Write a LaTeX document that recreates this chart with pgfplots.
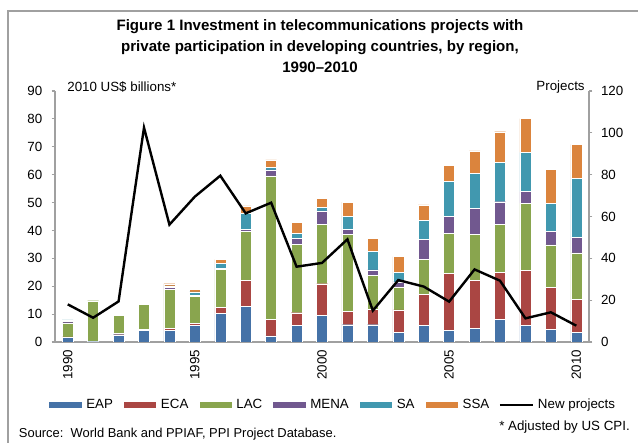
\documentclass[border=0pt]{standalone}
\usepackage{pgfplots}
\pgfplotsset{compat=1.18}
\usepackage{fontspec}
\setmainfont{Liberation Sans}
\definecolor{cEAP}{HTML}{4572A7}
\definecolor{cECA}{HTML}{AA4643}
\definecolor{cLAC}{HTML}{89A54E}
\definecolor{cMENA}{HTML}{71588F}
\definecolor{cSA}{HTML}{4198AF}
\definecolor{cSSA}{HTML}{DB843D}
\definecolor{axisgray}{HTML}{A0A0A0}
\pgfplotsset{
  barlegend/.style={legend image code/.code={\fill[##1] (0pt,-2.6pt) rectangle (25pt,2.6pt);}},
  linelegend/.style={legend image code/.code={\draw[##1] (0pt,0pt) -- (25pt,0pt);}},
}
\begin{document}
\begin{tikzpicture}
\path[use as bounding box] (0pt,0pt) rectangle (478.5pt,331.5pt);
\draw[axisgray, line width=1.2pt] (6pt,-5pt) -- (6pt,323.25pt) -- (485pt,323.25pt);
\node[font=\fontsize{11.3}{15.75}\selectfont\bfseries, align=center] at (240pt,297pt)
 {Figure 1 Investment in telecommunications projects with\\private participation in developing countries, by region,\\1990--2010};
\node[font=\fontsize{10}{12}\selectfont, anchor=west] at (47pt,266.5pt) {2010 US\$ billions*};
\node[font=\fontsize{10}{12}\selectfont, anchor=east] at (442pt,266.5pt) {Projects};
\node[font=\fontsize{9.7}{12}\selectfont, anchor=west, inner sep=0pt] at (14pt,6pt) {Source:\ \ World Bank and PPIAF, PPI Project Database.};
\node[font=\fontsize{10}{12}\selectfont, anchor=east, inner sep=0pt] at (472.5pt,11.25pt) {* Adjusted by US CPI.};
\begin{axis}[
  scale only axis, width=400.5pt, height=188.25pt,
  at={(41.25pt,75pt)}, anchor=south west,
  xmin=-0.5, xmax=20.5, ymin=0, ymax=90,
  ybar stacked, bar width=8.25pt,
  axis y line*=left, axis x line*=bottom,
  axis line style={draw=axisgray, line width=0.8pt, -},
  ytick={0,10,...,90},
  tick align=outside, major tick length=2.5pt,
  y tick style={draw=axisgray, line width=0.8pt},
  y tick label style={xshift=-3.5pt},
  xtick={0,5,10,15,20}, xticklabels={1990,1995,2000,2005,2010},
  x tick style={draw=none},
  x tick label style={rotate=90, anchor=east},
  tick label style={font=\fontsize{10}{12}\selectfont, /pgf/number format/assume math mode=true},
  legend columns=7,
  legend style={draw=none, fill=none, at={(0.519,-0.251)}, anchor=center,
    font=\fontsize{10}{12}\selectfont,
    nodes={inner xsep=0.6pt},
    /tikz/every odd column/.append style={column sep=2.5pt},
    /tikz/every even column/.append style={column sep=7pt}},
  barlegend,
  every axis plot/.append style={draw=white, line width=0.3pt},
]
\addplot[fill=cEAP] coordinates {(0,1.6)(1,0.1)(2,2.6)(3,4.1)(4,4.1)(5,6.0)(6,10.3)(7,12.9)(8,2.2)(9,6.0)(10,9.6)(11,6.2)(12,6.2)(13,3.5)(14,5.9)(15,4.1)(16,4.9)(17,8.1)(18,5.9)(19,4.5)(20,3.5)};
\addplot[fill=cECA] coordinates {(0,0.2)(1,0.2)(2,0.5)(3,0.4)(4,0.8)(5,0.8)(6,2.0)(7,9.3)(8,5.9)(9,4.5)(10,11.3)(11,4.7)(12,5.5)(13,8.0)(14,11.1)(15,20.5)(16,17.3)(17,16.9)(18,19.7)(19,15.0)(20,11.7)};
\addplot[fill=cLAC] coordinates {(0,5.1)(1,14.5)(2,6.5)(3,8.9)(4,14.1)(5,9.5)(6,13.8)(7,17.6)(8,51.5)(9,24.4)(10,21.4)(11,27.6)(12,12.3)(13,8.3)(14,12.6)(15,14.4)(16,16.4)(17,17.3)(18,24.1)(19,15.3)(20,16.8)};
\addplot[fill=cMENA] coordinates {(0,0.5)(1,0.2)(2,0.3)(3,0.5)(4,0.6)(5,0.4)(6,0.3)(7,0.6)(8,2.1)(9,2.2)(10,4.7)(11,1.9)(12,1.9)(13,1.8)(14,7.1)(15,6.1)(16,9.3)(17,8.0)(18,4.2)(19,4.8)(20,5.5)};
\addplot[fill=cSA] coordinates {(0,0.5)(1,0.3)(2,0.1)(3,0.2)(4,0.5)(5,1.3)(6,1.8)(7,5.7)(8,0.9)(9,1.9)(10,1.3)(11,4.7)(12,6.5)(13,3.3)(14,6.9)(15,12.6)(16,12.6)(17,14.0)(18,14.1)(19,10.1)(20,21.2)};
\addplot[fill=cSSA] coordinates {(0,0.1)(1,0.0)(2,0.3)(3,0.4)(4,0.8)(5,1.0)(6,1.4)(7,2.7)(8,2.7)(9,3.8)(10,3.3)(11,5.1)(12,4.8)(13,5.7)(14,5.6)(15,5.6)(16,8.0)(17,11.1)(18,12.1)(19,12.2)(20,12.2)};
\addlegendimage{black, line width=0.8pt, linelegend}
\legend{EAP,ECA,LAC,MENA,SA,SSA,New projects}
\end{axis}
\begin{axis}[
  scale only axis, width=400.5pt, height=188.25pt,
  at={(41.25pt,75pt)}, anchor=south west,
  xmin=-0.5, xmax=20.5, ymin=0, ymax=120,
  axis y line*=right, axis x line=none,
  axis line style={draw=axisgray, line width=0.8pt, -},
  ytick={0,20,...,120},
  tick align=outside, major tick length=2.5pt,
  y tick style={draw=axisgray, line width=0.8pt},
  y tick label style={xshift=3pt},
  tick label style={font=\fontsize{10}{12}\selectfont, /pgf/number format/assume math mode=true},
]
\addplot[black, line width=1.8pt, mark=none] coordinates {(0,18.0)(1,11.6)(2,19.4)(3,102.5)(4,56.1)(5,69.5)(6,79.5)(7,61.5)(8,66.6)(9,36.0)(10,37.8)(11,49.1)(12,15.0)(13,29.6)(14,26.5)(15,19.3)(16,34.7)(17,29.3)(18,11.3)(19,14.2)(20,7.8)};
\end{axis}
\end{tikzpicture}
\end{document}
